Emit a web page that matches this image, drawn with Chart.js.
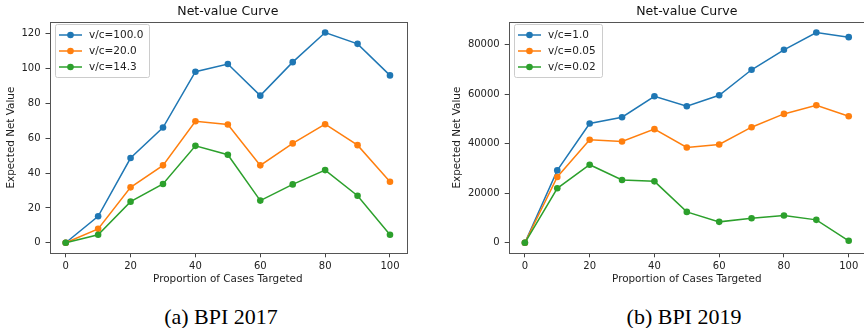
<!DOCTYPE html>
<html>
<head>
<meta charset="utf-8">
<script src="https://cdn.jsdelivr.net/npm/chart.js@4.4.1/dist/chart.umd.min.js"></script>
<style>
html, body { margin: 0; padding: 0; background: #fff; }
body { width: 864px; height: 328px; overflow: hidden; position: relative; }
.panel { position: absolute; top: 0; height: 290px; }
#wrapA { left: 0; width: 432px; }
#wrapB { left: 432px; width: 440px; }
.caption { position: absolute; top: 306px; font-family: "Liberation Serif", "DejaVu Serif", serif; font-size: 22px; line-height: 22px; white-space: nowrap; transform: translateX(-50%); color: #000; }
</style>
</head>
<body>
<div class="panel" id="wrapA"><canvas id="chartA" width="432" height="290"></canvas></div>
<div class="panel" id="wrapB"><canvas id="chartB" width="440" height="290"></canvas></div>
<div class="caption" style="left:221px">(a) BPI 2017</div>
<div class="caption" style="left:684px">(b) BPI 2019</div>
<script>
// x positions shared by both panels
const proportions = [0, 10, 20, 30, 40, 50, 60, 70, 80, 90, 100];
const xTicks = [0, 20, 40, 60, 80, 100];

// (a) BPI 2017
const labelsA = ['v/c=100.0', 'v/c=20.0', 'v/c=14.3'];
const vc100 = [0, 15.2, 48.6, 66.1, 98.1, 102.5, 84.4, 103.6, 120.6, 114.1, 96.0];
const vc20 = [0, 8.0, 31.8, 44.4, 69.7, 67.8, 44.4, 57.0, 68.0, 56.0, 35.0];
const vc14 = [0, 4.6, 23.6, 33.7, 55.6, 50.5, 24.2, 33.5, 41.7, 27.0, 4.6];
const yTicksA = [0, 20, 40, 60, 80, 100, 120];

// (b) BPI 2019
const labelsB = ['v/c=1.0', 'v/c=0.05', 'v/c=0.02'];
const vc1 = [0, 29200, 48100, 50650, 59100, 55070, 59500, 69800, 77850, 84820, 82950];
const vc005 = [0, 26530, 41540, 40870, 45830, 38460, 39660, 46630, 51990, 55480, 51050];
const vc002 = [0, 21980, 31490, 25330, 24790, 12460, 8440, 9920, 10990, 9250, 800];
const yTicksB = [0, 20000, 40000, 60000, 80000];

const colors = ['#1f77b4', '#ff7f0e', '#2ca02c'];
const FONT = '"DejaVu Sans", sans-serif';

// matplotlib style frame (all four spines)
const frame = {
    id: 'frame',
    afterDatasetsDraw(chart) {
        const { ctx, chartArea: a } = chart;
        ctx.save();
        ctx.strokeStyle = '#555';
        ctx.lineWidth = 1;
        ctx.strokeRect(Math.round(a.left) + 0.5, Math.round(a.top) + 0.5,
            Math.round(a.right - a.left), Math.round(a.bottom - a.top));
        ctx.restore();
    }
};

// legend in the upper left corner of the plot
const innerLegend = {
    id: 'innerLegend',
    afterDraw(chart) {
        const { ctx, chartArea: a } = chart;
        const sets = chart.data.datasets;
        ctx.save();
        ctx.font = '10.5px ' + FONT;
        const textW = Math.max(...sets.map(d => ctx.measureText(d.label).width));
        const x = Math.round(a.left + 5), y = Math.round(a.top + 2);
        const w = Math.round(34 + textW + 6), h = 53;
        ctx.fillStyle = 'rgba(255,255,255,0.8)';
        ctx.strokeStyle = '#cccccc';
        ctx.lineWidth = 1;
        ctx.beginPath();
        ctx.roundRect(x + 0.5, y + 0.5, w, h, 2);
        ctx.fill();
        ctx.stroke();
        sets.forEach((d, i) => {
            const cy = y + 11 + i * 16;
            ctx.strokeStyle = d.borderColor;
            ctx.lineWidth = 1.5;
            ctx.beginPath();
            ctx.moveTo(x + 4, cy);
            ctx.lineTo(x + 27, cy);
            ctx.stroke();
            ctx.fillStyle = d.borderColor;
            ctx.beginPath();
            ctx.arc(x + 15.5, cy, 3.3, 0, Math.PI * 2);
            ctx.fill();
            ctx.fillStyle = '#222';
            ctx.textBaseline = 'middle';
            ctx.fillText(d.label, x + 34, cy);
        });
        ctx.restore();
    }
};

function makeChart(id, labels, series, yTicks, opts) {
    const all = series.flat();
    const lo = Math.min(...all), hi = Math.max(...all);
    const pad = (hi - lo) * 0.05;

    const datasets = series.map((vals, i) => ({
        label: labels[i],
        data: vals.map((v, k) => ({ x: proportions[k], y: v })),
        borderColor: colors[i],
        backgroundColor: colors[i],
        borderWidth: 1.5,
        pointRadius: 3.3,
        pointHoverRadius: 3.3,
        pointBorderWidth: 0,
        order: series.length - i,
        tension: 0
    }));

    const tickFont = { family: FONT, size: 10 };
    const titleFont = { family: FONT, size: 10.4 };

    new Chart(document.getElementById(id), {
        type: 'line',
        data: { datasets },
        options: {
            responsive: false,
            animation: false,
            clip: false,
            layout: { padding: { left: 0, right: opts.rightPad, top: 0, bottom: 0 } },
            plugins: {
                legend: { display: false },
                tooltip: { enabled: false },
                title: {
                    display: true,
                    text: 'Net-value Curve',
                    fullSize: false,
                    color: '#111',
                    font: { family: FONT, size: 12.5, weight: 'normal' },
                    padding: { top: 4, bottom: 3 }
                }
            },
            scales: {
                x: {
                    type: 'linear',
                    min: -5,
                    max: 105,
                    afterBuildTicks: s => { s.ticks = xTicks.map(v => ({ value: v })); },
                    afterFit: s => { s.height = 36.7; },
                    grid: { drawOnChartArea: false, drawTicks: true, tickLength: 4, color: '#444' },
                    border: { display: false },
                    ticks: { font: tickFont, color: '#222', padding: 3, maxRotation: 0 },
                    title: { display: true, text: 'Proportion of Cases Targeted', color: '#222', font: titleFont, padding: { top: 0, bottom: 4 } }
                },
                y: {
                    min: lo - pad,
                    max: hi + pad,
                    afterBuildTicks: s => { s.ticks = yTicks.map(v => ({ value: v })); },
                    afterFit: s => { s.width = opts.yWidth; },
                    grid: { drawOnChartArea: false, drawTicks: true, tickLength: 4, color: '#444' },
                    border: { display: false },
                    ticks: { font: tickFont, color: '#222', padding: 5, callback: v => String(v) },
                    title: { display: true, text: 'Expected Net Value', color: '#222', font: titleFont, padding: { top: opts.yTitlePad, bottom: 0 } }
                }
            }
        },
        plugins: [frame, innerLegend]
    });
}

makeChart('chartA', labelsA, [vc100, vc20, vc14], yTicksA, { yWidth: 49.5, rightPad: 25.8, yTitlePad: 5.5 });
makeChart('chartB', labelsB, [vc1, vc005, vc002], yTicksB, { yWidth: 76.7, rightPad: 7.1, yTitlePad: 18.8 });
</script>
</body>
</html>
